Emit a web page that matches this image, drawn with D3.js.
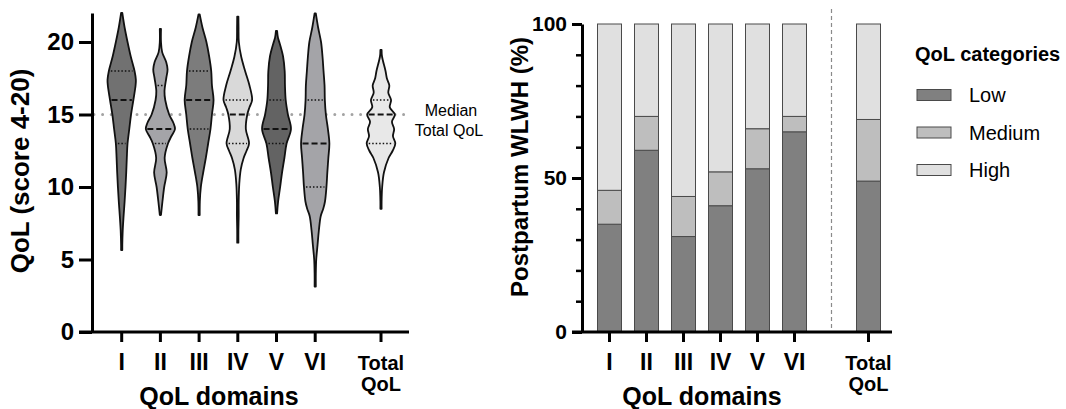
<!DOCTYPE html>
<html>
<head>
<meta charset="utf-8">
<script src="https://cdn.jsdelivr.net/npm/d3@7"></script>
<style>
  body { margin: 0; background: #fff; }
  text { font-family: "Liberation Sans", Arial, sans-serif; }
</style>
</head>
<body>
<svg id="chart" width="1066" height="409"></svg>
<script>
// ---- data: violin panel ----
const domains = ["I", "II", "III", "IV", "V", "VI", "Total QoL"]
const violinColors = ["#717171", "#a4a4a8", "#7c7c7c", "#d9d9d9", "#636363", "#a4a4a8", "#e8e8e8"]
// [score, relative density]
const violinI = [[22,0],[21,0.2],[20,0.4],[19,0.62],[18,0.88],[17.4,0.97],[17,0.95],[16,0.8],[15,0.64],[14,0.52],[13,0.4],[12,0.35],[11,0.31],[10,0.26],[9,0.2],[8,0.13],[7,0.07],[6,0.02],[5.65,0]]
const violinII = [[20.9,0],[20,0.03],[19.3,0.12],[18.6,0.4],[18.1,0.49],[17.5,0.4],[16.6,0.28],[16,0.33],[15,0.6],[14.4,0.9],[14,1.0],[13.5,0.75],[13,0.52],[12,0.29],[11,0.43],[10,0.26],[9,0.14],[8.07,0]]
const violinIII = [[21.9,0],[21,0.23],[20,0.5],[19,0.69],[18,0.83],[17,0.88],[16,0.99],[15,0.88],[14,0.78],[13,0.62],[12,0.46],[11,0.28],[10,0.12],[9,0.05],[8.07,0]]
const violinIV = [[21.75,0],[21,0.05],[20,0.07],[19,0.23],[18,0.5],[17,0.8],[16,0.98],[15.5,0.8],[15,0.65],[14,0.55],[13,0.77],[12.5,0.6],[12,0.4],[11.2,0.2],[10.2,0.1],[9,0.06],[8,0.06],[7,0.04],[6.16,0]]
const violinV = [[20.76,0],[20.3,0.1],[19.9,0.22],[19,0.45],[18,0.56],[17,0.58],[16,0.63],[15,0.78],[14,0.99],[13,0.69],[12,0.54],[11,0.38],[10,0.25],[9,0.11],[8.18,0]]
const violinVI = [[21.97,0],[21,0.2],[20,0.4],[19,0.5],[18,0.57],[17,0.64],[16,0.66],[15,0.73],[14,0.87],[13,0.97],[12,0.9],[11,0.83],[10,0.77],[9,0.67],[8.5,0.55],[8,0.38],[7,0.25],[6,0.16],[5,0.07],[4,0.02],[3.13,0]]
const violinTotal = [[19.45,0],[19,0.07],[18,0.31],[17.5,0.4],[17,0.57],[16.5,0.5],[16,0.69],[15.5,0.6],[15,0.95],[14.5,0.75],[14,0.9],[13.5,0.82],[13,0.98],[12.5,0.8],[12,0.52],[11,0.2],[10,0.08],[9,0.03],[8.5,0]]
const violins = [violinI, violinII, violinIII, violinIV, violinV, violinVI, violinTotal]
const q1 = [13, 13, 14, 13, 13, 10, 13]
const medians = [16, 14, 16, 15, 14, 13, 15]
const q3 = [18, 17, 18, 16, 16, 16, 16]
const medianTotal = 15
const scoreTicks = [0, 5, 10, 15, 20]

// ---- data: stacked bar panel (% of postpartum WLWH) ----
const categories = ["Low", "Medium", "High"]
const catColors = ["#808080", "#bebebe", "#e0e0e0"]
const lowPct = [35, 59, 31, 41, 53, 65, 49]
const mediumPct = [11, 11, 13, 11, 13, 5, 20]
const highPct = [54, 30, 56, 48, 34, 30, 31]
const pctTicks = [0, 50, 100]
const pctMinorTicks = [10, 20, 30, 40, 60, 70, 80, 90]

const svg = d3.select("#chart")

// ================= left panel: violins =================
let yL = d3.scaleLinear().domain([0, 22]).range([332, 13])
let xL = d3.scaleLinear().domain([0, 6.7]).range([121.7, 381])
let xPosL = i => xL(i < 6 ? i : 6.7)
let wL = d3.scaleLinear().domain([0, 1]).range([0, 14.6])

// median reference line
svg.append("line")
    .attr("x1", 94).attr("x2", 405)
    .attr("y1", yL(medianTotal)).attr("y2", yL(medianTotal))
    .attr("stroke", "#a3a3a3")
    .attr("stroke-width", 3)
    .attr("stroke-linecap", "round")
    .attr("stroke-dasharray", "0,8.6")

svg.append("text")
    .attr("x", 451).attr("y", 116)
    .attr("text-anchor", "middle")
    .attr("font-size", 16)
    .text("Median")
svg.append("text")
    .attr("x", 449).attr("y", 136)
    .attr("text-anchor", "middle")
    .attr("font-size", 16)
    .text("Total QoL")

function halfWidth(profile, v) {
    for (let k = 0; k < profile.length - 1; k++) {
        let a = profile[k], b = profile[k + 1]
        if (v <= a[0] && v >= b[0]) {
            let t = (a[0] - v) / (a[0] - b[0])
            return a[1] + t * (b[1] - a[1])
        }
    }
    return 0
}

violins.forEach((profile, i) => {
    let cx = xPosL(i)
    let g = svg.append("g")
    let area = d3.area()
        .y(d => yL(d[0]))
        .x0(d => cx - Math.max(wL(d[1]), 0.6))
        .x1(d => cx + Math.max(wL(d[1]), 0.6))
        .curve(d3.curveCatmullRom.alpha(0.5))
    g.append("path")
        .datum(profile)
        .attr("d", area)
        .attr("fill", violinColors[i])
        .attr("stroke", "#111")
        .attr("stroke-width", 1.8)
        .attr("stroke-linejoin", "round")

    let quart = [q1[i], q3[i]]
    g.selectAll("line.q")
        .data(quart)
        .join("line")
        .attr("x1", d => cx - wL(halfWidth(profile, d)) + 2)
        .attr("x2", d => cx + wL(halfWidth(profile, d)) - 2)
        .attr("y1", d => yL(d)).attr("y2", d => yL(d))
        .attr("stroke", "#111")
        .attr("stroke-width", 1.5)
        .attr("stroke-dasharray", "1.5,2")
    g.append("line")
        .attr("x1", cx - wL(halfWidth(profile, medians[i])) + 1.5)
        .attr("x2", cx + wL(halfWidth(profile, medians[i])) - 1.5)
        .attr("y1", yL(medians[i])).attr("y2", yL(medians[i]))
        .attr("stroke", "#111")
        .attr("stroke-width", 2)
        .attr("stroke-dasharray", "6,3")
})

// left axes
let yAxisL = svg.append("g")
    .attr("transform", "translate(92,0)")
    .call(d3.axisLeft(yL).tickValues(scoreTicks).tickSize(13).tickPadding(5).tickSizeOuter(0))
yAxisL.select(".domain").attr("stroke-width", 3)
yAxisL.selectAll(".tick line").attr("stroke-width", 3)
yAxisL.selectAll(".tick text")
    .attr("font-size", 24).attr("font-weight", "bold")
    .attr("font-family", "Liberation Sans, Arial, sans-serif")

svg.append("line")
    .attr("x1", 79).attr("x2", 409)
    .attr("y1", yL(0)).attr("y2", yL(0))
    .attr("stroke", "#000").attr("stroke-width", 3)

domains.forEach((d, i) => {
    let cx = xPosL(i)
    svg.append("line")
        .attr("x1", cx).attr("x2", cx)
        .attr("y1", yL(0)).attr("y2", yL(0) + 10)
        .attr("stroke", "#000").attr("stroke-width", 3)
})

function xLabels(xpos, y0) {
    domains.forEach((d, i) => {
        if (i < 6) {
            svg.append("text")
                .attr("x", xpos(i)).attr("y", y0)
                .attr("text-anchor", "middle")
                .attr("font-size", 23).attr("font-weight", "bold")
                .text(d)
        } else {
            let parts = d.split(" ")
            svg.append("text")
                .attr("x", xpos(i)).attr("y", y0)
                .attr("text-anchor", "middle")
                .attr("font-size", 20).attr("font-weight", "bold")
                .text(parts[0])
            svg.append("text")
                .attr("x", xpos(i)).attr("y", y0 + 21)
                .attr("text-anchor", "middle")
                .attr("font-size", 20).attr("font-weight", "bold")
                .text(parts[1])
        }
    })
}
xLabels(xPosL, 370)

svg.append("text")
    .attr("x", 219).attr("y", 405)
    .attr("text-anchor", "middle")
    .attr("font-size", 25).attr("font-weight", "bold")
    .text("QoL domains")

svg.append("text")
    .attr("transform", "translate(29,171) rotate(-90)")
    .attr("text-anchor", "middle")
    .attr("font-size", 26).attr("font-weight", "bold")
    .text("QoL (score 4-20)")

// ================= right panel: stacked bars =================
let yR = d3.scaleLinear().domain([0, 100]).range([332, 24])
let xR = d3.scaleLinear().domain([0, 7]).range([609.5, 868.5])
let xPosR = i => xR(i < 6 ? i : 7)
let barW = 24

let table = domains.map((d, i) => ({ domain: d, Low: lowPct[i], Medium: mediumPct[i], High: highPct[i], idx: i }))
let stack = d3.stack().keys(categories)(table)

svg.append("line")
    .attr("x1", xR(6)).attr("x2", xR(6))
    .attr("y1", 9).attr("y2", yR(0))
    .attr("stroke", "#8a8a8a").attr("stroke-width", 1.2)
    .attr("stroke-dasharray", "4,3")

svg.append("g")
    .selectAll("g")
    .data(stack)
    .join("g")
        .attr("fill", (d, k) => catColors[k])
    .selectAll("rect")
    .data(d => d)
    .join("rect")
        .attr("x", d => xPosR(d.data.idx) - barW / 2)
        .attr("y", d => yR(d[1]))
        .attr("width", barW)
        .attr("height", d => yR(d[0]) - yR(d[1]))
        .attr("stroke", "#4a4a4a")
        .attr("stroke-width", 1)

let yAxisR = svg.append("g")
    .attr("transform", "translate(582,0)")
    .call(d3.axisLeft(yR).tickValues(pctTicks).tickSize(10).tickPadding(5).tickSizeOuter(0))
yAxisR.select(".domain").attr("stroke-width", 3)
yAxisR.selectAll(".tick line").attr("stroke-width", 3)
yAxisR.selectAll(".tick text")
    .attr("font-size", 21).attr("font-weight", "bold")
    .attr("font-family", "Liberation Sans, Arial, sans-serif")

svg.append("g")
    .attr("transform", "translate(582,0)")
    .call(d3.axisLeft(yR).tickValues(pctMinorTicks).tickSize(6).tickFormat(""))
    .call(g => g.select(".domain").remove())
    .call(g => g.selectAll(".tick line").attr("stroke-width", 2.5))

svg.append("line")
    .attr("x1", 572).attr("x2", 892)
    .attr("y1", yR(0)).attr("y2", yR(0))
    .attr("stroke", "#000").attr("stroke-width", 3)

domains.forEach((d, i) => {
    let cx = xPosR(i)
    svg.append("line")
        .attr("x1", cx).attr("x2", cx)
        .attr("y1", yR(0)).attr("y2", yR(0) + 10)
        .attr("stroke", "#000").attr("stroke-width", 3)
})
xLabels(xPosR, 370)

svg.append("text")
    .attr("x", 702).attr("y", 405)
    .attr("text-anchor", "middle")
    .attr("font-size", 25).attr("font-weight", "bold")
    .text("QoL domains")

svg.append("text")
    .attr("transform", "translate(528,167) rotate(-90)")
    .attr("text-anchor", "middle")
    .attr("font-size", 24).attr("font-weight", "bold")
    .text("Postpartum WLWH (%)")

// legend
svg.append("text")
    .attr("x", 915).attr("y", 61)
    .attr("font-size", 20).attr("font-weight", "bold")
    .text("QoL categories")

let legend = svg.append("g")
    .selectAll("g")
    .data(categories)
    .join("g")
    .attr("transform", (d, k) => `translate(917,${95 + k * 37.5})`)
legend.append("rect")
    .attr("x", 0).attr("y", -5.5)
    .attr("width", 34).attr("height", 11)
    .attr("fill", (d, k) => catColors[k])
    .attr("stroke", "#4a4a4a").attr("stroke-width", 1)
legend.append("text")
    .attr("x", 52).attr("y", 7)
    .attr("font-size", 20)
    .text(d => d)
</script>
</body>
</html>
